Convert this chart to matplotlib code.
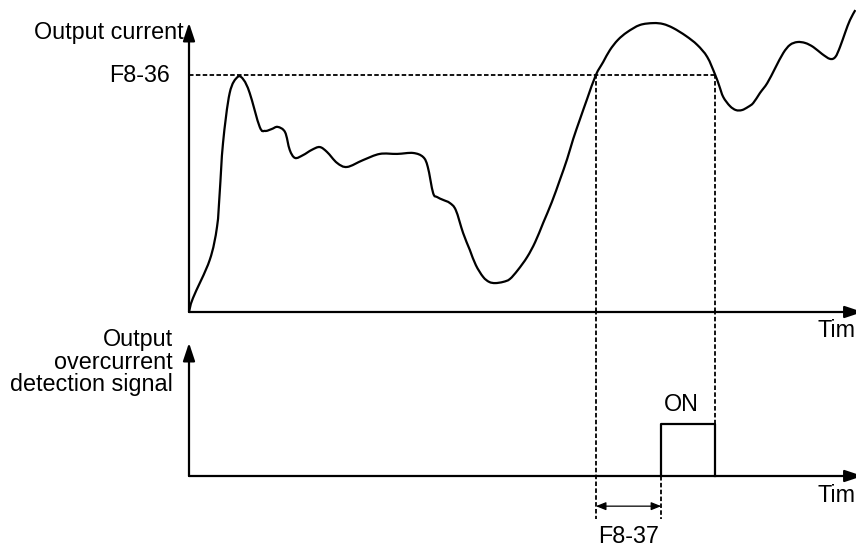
import matplotlib
matplotlib.use("Agg")
import matplotlib.pyplot as plt
from matplotlib.path import Path
from matplotlib.patches import PathPatch

# output current curve (time in arbitrary units, current in % of F8-36)
time_pts = [0, 0.6, 3.1, 4.2, 4.6, 5.1, 6.1, 7.3, 8.2, 9.1, 10.6, 11.4, 12.4, 13.3,
            14.4, 15.1, 15.9, 17.1, 18.4, 19.6, 20.7, 22.2, 23.7, 26.1, 28.6, 31.2,
            33.6, 35.1, 35.8, 36.6, 37.2, 38.1, 39.1, 40.0, 41.1, 42.1, 43.0, 44.1,
            45.0, 45.9, 47.1, 48.1, 49.3, 50.7, 51.9, 53.1, 54.4, 55.6, 56.7, 57.6,
            58.6, 59.7, 61.0, 62.1, 63.1, 64.3, 65.7, 67.6, 69.6, 71.1, 72.6, 74.5,
            76.2, 77.7, 78.9, 79.5, 80.1, 81.1, 82.0, 82.9, 83.8, 84.6, 85.6, 86.7,
            87.9, 89.1, 90.1, 91.2, 92.4, 93.6, 94.9, 96.1, 96.9, 97.6, 98.4, 99.1, 99.9]
current_pts = [0, 5.9, 21.9, 35.9, 50.2, 71.3, 92.4, 99.2, 97.9, 92.4, 78.1, 76.4, 77.2, 78.1,
               75.9, 68.4, 65.0, 66.2, 68.4, 69.6, 67.5, 62.9, 61.2, 64.1, 66.7, 66.7,
               67.1, 65.4, 61.2, 50.2, 48.5, 47.3, 46.0, 43.0, 33.3, 26.2, 19.8, 14.8,
               12.7, 12.2, 12.7, 13.9, 17.7, 23.2, 29.5, 37.6, 46.4, 55.7, 64.6, 73.0,
               81.2, 90.0, 100.0, 105.5, 110.5, 114.8, 118.1, 121.1, 121.9, 121.5, 119.8, 116.5,
               112.7, 107.6, 100.0, 95.4, 90.7, 86.9, 85.2, 85.2, 86.5, 88.2, 92.4, 96.6,
               103.0, 109.3, 112.7, 113.9, 113.5, 111.8, 108.9, 106.8, 107.6, 111.8, 118.1, 123.2, 127.4]

threshold = 100.0          # F8-36
cross_times = [61.0, 78.9]  # curve crosses F8-36
on_time = 70.8             # after F8-37 delay
signal_t = [on_time, on_time, 78.9, 78.9]
signal_v = [0, 1, 1, 0]

FONT = "Liberation Sans"
FS = 16.8
DASH = (0, (2.5, 1.3))


def smooth_path(xs, ys):
    # Catmull-Rom through the read points, drawn as cubic beziers
    pts = list(zip(xs, ys))
    verts = [pts[0]]
    codes = [Path.MOVETO]
    for i in range(len(pts) - 1):
        p0 = pts[max(i - 1, 0)]
        p1 = pts[i]
        p2 = pts[i + 1]
        p3 = pts[min(i + 2, len(pts) - 1)]
        c1 = (p1[0] + (p2[0] - p0[0]) / 6, p1[1] + (p2[1] - p0[1]) / 6)
        c2 = (p2[0] - (p3[0] - p1[0]) / 6, p2[1] - (p3[1] - p1[1]) / 6)
        verts += [c1, c2, p2]
        codes += [Path.CURVE4] * 3
    return Path(verts, codes)


fig = plt.figure(figsize=(8.56, 5.46), dpi=100)
left = 189 / 856
ax_top = fig.add_axes([left, (546 - 312) / 546, 1 - left, 312 / 546])
ax_bot = fig.add_axes([left, 0, 1 - left, (546 - 312) / 546])
for ax in (ax_top, ax_bot):
    ax.set_xlim(0, 100)
    ax.axis("off")
    ax.patch.set_alpha(0)
ax_top.set_ylim(0, 312 / 2.37)
ax_bot.set_ylim(-70 / 52, 164 / 52)

axis_arrow = dict(arrowstyle="-|>,head_length=0.6,head_width=0.2", lw=1.6,
                  color="black", mutation_scale=18, shrinkA=0, shrinkB=0)

# top plot: axes, curve, threshold
ax_top.annotate("", xy=(0, 122), xytext=(0, 0), arrowprops=axis_arrow, annotation_clip=False)
ax_top.annotate("", xy=(101, 0), xytext=(0, 0), arrowprops=axis_arrow, annotation_clip=False)
ax_top.add_patch(PathPatch(smooth_path(time_pts, current_pts), facecolor="none",
                           edgecolor="black", lw=1.6, clip_on=False))
ax_top.plot([0, cross_times[1]], [threshold, threshold], color="black", lw=1.3, linestyle=DASH)
ax_top.vlines(cross_times, 0, threshold, colors="black", lw=1.3, linestyles=DASH)

ax_top.text(-0.75, 118, "Output current", ha="right", va="center", fontsize=FS, family=FONT)
ax_top.text(-2.85, threshold, "F8-36", ha="right", va="center", fontsize=FS, family=FONT)
ax_top.text(94.2, -8.0, "Time", ha="left", va="center", fontsize=FS, family=FONT, clip_on=False)

# bottom plot: detection signal
ax_bot.annotate("", xy=(0, 2.56), xytext=(0, 0), arrowprops=axis_arrow, annotation_clip=False)
ax_bot.annotate("", xy=(101, 0), xytext=(0, 0), arrowprops=axis_arrow, annotation_clip=False)
ax_bot.plot(signal_t, signal_v, color="black", lw=1.6)
ax_bot.plot([cross_times[0]] * 2, [3.2, -0.83], color="black", lw=1.3, linestyle=DASH, clip_on=False)
ax_bot.plot([cross_times[1]] * 2, [3.2, 1], color="black", lw=1.3, linestyle=DASH, clip_on=False)
ax_bot.plot([on_time] * 2, [0, -0.83], color="black", lw=1.3, linestyle=DASH)
ax_bot.annotate("", xy=(cross_times[0], -0.58), xytext=(on_time, -0.58),
                arrowprops=dict(arrowstyle="<|-|>,head_length=0.5,head_width=0.2", lw=0.9,
                                color="black", mutation_scale=12, shrinkA=0, shrinkB=0))

ax_bot.text(-2.4, 2.19, "Output\novercurrent\ndetection signal", ha="right", va="center",
            multialignment="right", linespacing=0.98, fontsize=FS, family=FONT)
ax_bot.text(73.8, 1.37, "ON", ha="center", va="center", fontsize=FS, family=FONT)
ax_bot.text((cross_times[0] + on_time) / 2, -1.16, "F8-37", ha="center", va="center",
            fontsize=FS, family=FONT)
ax_bot.text(94.2, -0.37, "Time", ha="left", va="center", fontsize=FS, family=FONT)

fig.savefig("out.png", dpi=100)
